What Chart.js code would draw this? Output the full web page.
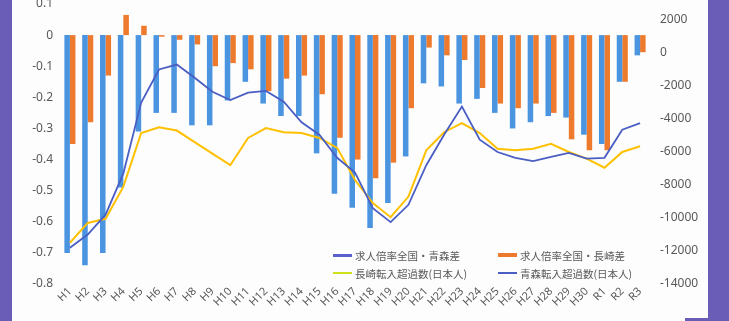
<!DOCTYPE html>
<html>
<head>
<meta charset="utf-8">
<script src="https://cdn.jsdelivr.net/npm/chart.js@4.4.1/dist/chart.umd.min.js"></script>
<style>
    html, body { margin: 0; padding: 0; background: #fdfdfd; }
    body { width: 729px; height: 321px; position: relative; overflow: hidden; }
    #chart { position: absolute; left: 0; top: 0; }
    .frame { position: absolute; background: #6a5db8; }
    .legend-item { position: absolute; height: 14px; display: flex; align-items: center;
        font: 10.5px "Noto Sans CJK JP", "Noto Sans", sans-serif; color: #595959; white-space: nowrap; }
    .legend-item span.mark { display: inline-block; width: 19px; margin-right: 3px; }
</style>
</head>
<body>
<canvas id="chart" width="729" height="321"></canvas>
<div class="frame" style="left:0;top:0;width:12px;height:321px"></div>
<div class="frame" style="left:708px;top:0;width:21px;height:321px"></div>
<div class="frame" style="left:685px;top:318px;width:44px;height:3px"></div>
<div id="legend"></div>

<script>
// categories (Heisei 1..30, Reiwa 1..3)
const years = ["H1", "H2", "H3", "H4", "H5", "H6", "H7", "H8", "H9", "H10",
    "H11", "H12", "H13", "H14", "H15", "H16", "H17", "H18", "H19", "H20",
    "H21", "H22", "H23", "H24", "H25", "H26", "H27", "H28", "H29", "H30",
    "R1", "R2", "R3"];

// job-offer ratio gap vs national (left axis)
const aomoriGap = [-0.70, -0.74, -0.70, -0.49, -0.31, -0.25, -0.25, -0.29, -0.29, -0.21,
    -0.15, -0.22, -0.26, -0.26, -0.38, -0.51, -0.555, -0.62, -0.54, -0.39,
    -0.155, -0.165, -0.22, -0.205, -0.25, -0.30, -0.28, -0.26, -0.265, -0.32,
    -0.35, -0.15, -0.065];
const nagasakiGap = [-0.35, -0.28, -0.13, 0.065, 0.03, -0.005, -0.015, -0.03, -0.10, -0.09,
    -0.11, -0.18, -0.14, -0.13, -0.19, -0.33, -0.40, -0.46, -0.41, -0.235,
    -0.04, -0.065, -0.08, -0.17, -0.22, -0.235, -0.22, -0.25, -0.335, -0.37,
    -0.37, -0.15, -0.055];

// net in-migration, Japanese nationals (right axis)
const nagasakiNet = [-11500, -10300, -10050, -8100, -4850, -4500, -4700, -5400, -6100, -6800,
    -5150, -4550, -4800, -4850, -5150, -5750, -7700, -9100, -9950, -8700,
    -5900, -4800, -4250, -4850, -5800, -5900, -5800, -5500, -6000, -6400,
    -6950, -6000, -5650];
const aomoriNet = [-11800, -11000, -9800, -7300, -3000, -1000, -700, -1500, -2350, -2850,
    -2400, -2300, -2950, -4200, -4950, -6350, -7250, -9400, -10250, -9200,
    -6800, -4950, -3250, -5250, -6000, -6350, -6550, -6300, -6050, -6400,
    -6350, -4650, -4250];

// tick labels
const leftTicks = [0.1, 0, -0.1, -0.2, -0.3, -0.4, -0.5, -0.6, -0.7, -0.8];
const rightTicks = [2000, 0, -2000, -4000, -6000, -8000, -10000, -12000, -14000];

const tickColor = "#595959";
const tickFont = { family: "'Noto Sans', sans-serif", size: 12 };

const ctx = document.getElementById("chart");
const theChart = new Chart(ctx, {
    type: "bar",
    data: {
        labels: years,
        datasets: [
            {
                label: "求人倍率全国・青森差",
                data: aomoriGap,
                backgroundColor: "#4a94e0",
                yAxisID: "y",
                order: 3,
                legendMark: { color: "#5b60cc", h: 3 },
            },
            {
                label: "求人倍率全国・長崎差",
                data: nagasakiGap,
                backgroundColor: "#ee7a2e",
                yAxisID: "y",
                order: 3,
                legendMark: { color: "#ee7a2e", h: 4 },
            },
            {
                type: "line",
                label: "長崎転入超過数(日本人)",
                data: nagasakiNet,
                borderColor: "#ffc000",
                borderWidth: 2,
                pointRadius: 0,
                tension: 0,
                yAxisID: "y1",
                order: 2,
                legendMark: { color: "#cde21a", h: 1.5 },
            },
            {
                type: "line",
                label: "青森転入超過数(日本人)",
                data: aomoriNet,
                borderColor: "#4a5ec4",
                borderWidth: 1.8,
                pointRadius: 0,
                tension: 0,
                yAxisID: "y1",
                order: 1,
                legendMark: { color: "#4a5ec4", h: 1.5 },
            },
        ],
    },
    options: {
        responsive: false,
        animation: false,
        layout: { padding: { top: 4, left: 0, right: 0, bottom: 0 } },
        datasets: {
            bar: { categoryPercentage: 0.62, barPercentage: 1.0 },
        },
        plugins: {
            legend: { display: false },
            tooltip: { enabled: false },
        },
        scales: {
            x: {
                grid: { display: false, drawTicks: false },
                border: { display: false },
                ticks: {
                    color: tickColor,
                    font: { family: "'Noto Sans', sans-serif", size: 11 },
                    minRotation: 45,
                    maxRotation: 45,
                    autoSkip: false,
                    padding: 1,
                },
                afterFit: (scale) => {
                    scale.height = 37;
                    scale.paddingLeft = 0;
                    scale.paddingRight = 0;
                },
            },
            y: {
                position: "left",
                min: -0.8,
                max: 0.1,
                grid: { display: false, drawTicks: false },
                border: { display: false },
                ticks: {
                    color: tickColor,
                    font: tickFont,
                    padding: 8,
                    callback: (v) => String(Math.round(v * 10) / 10),
                },
                afterBuildTicks: (scale) => {
                    scale.ticks = leftTicks.map((v) => ({ value: v }));
                },
                afterFit: (scale) => {
                    scale.width = 61;
                    scale.paddingTop = 0;
                    scale.paddingBottom = 0;
                },
            },
            y1: {
                position: "right",
                min: -14000,
                max: 2970,
                grid: { display: false, drawTicks: false },
                border: { display: false },
                ticks: {
                    color: tickColor,
                    font: tickFont,
                    padding: 11,
                    callback: (v) => String(v),
                },
                afterBuildTicks: (scale) => {
                    scale.ticks = rightTicks.map((v) => ({ value: v }));
                },
                afterFit: (scale) => {
                    scale.width = 80;
                    scale.paddingTop = 0;
                    scale.paddingBottom = 0;
                },
            },
        },
    },
});

// legend sits inside the plot, 2 columns x 2 rows
const legendPos = [[333, 248], [498, 248], [333, 266], [498, 266]];
const legendBox = document.getElementById("legend");
theChart.data.datasets.forEach((ds, i) => {
    const item = document.createElement("div");
    item.className = "legend-item";
    item.style.left = legendPos[i][0] + "px";
    item.style.top = legendPos[i][1] + "px";
    const mark = document.createElement("span");
    mark.className = "mark";
    mark.style.height = ds.legendMark.h + "px";
    mark.style.background = ds.legendMark.color;
    item.appendChild(mark);
    item.appendChild(document.createTextNode(ds.label));
    legendBox.appendChild(item);
});
</script>
</body>
</html>
